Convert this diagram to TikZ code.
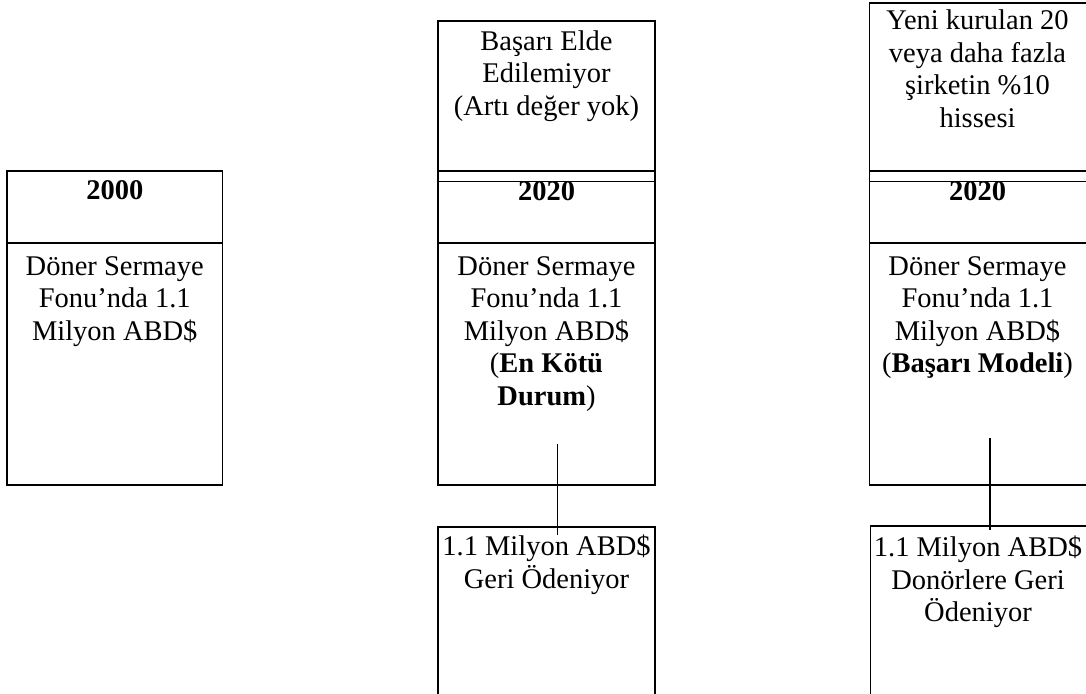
\documentclass[tikz,border=0pt]{standalone}
\usepackage{fontspec}
\setmainfont{Liberation Serif}
\begin{document}
\tikzset{
  frame/.style={draw, line width=1.8pt, inner sep=0pt, outer sep=0pt, anchor=north west},
  txt/.style={font=\fontsize{28.5}{32.5}\selectfont, align=center, inner sep=0pt, anchor=north},
  link/.style={draw, line width=1.4pt},
}
\begin{tikzpicture}[x=1pt,y=-1pt]
\useasboundingbox (0,0) rectangle (1086,693);
\clip (0,0) rectangle (1086,693);
% column 1 (2000)
\node[frame, minimum width=215.5pt, minimum height=72pt] (a-head) at (7,171) {};
\node[frame, minimum width=215.5pt, minimum height=242pt] (a-body) at (7,243) {};
% column 2 (2020, worst case)
\node[frame, minimum width=217pt, minimum height=150pt] (m-top) at (438,21) {};
\node[frame, minimum width=217pt, minimum height=10.5pt] (m-strip) at (438,171) {};
\node[frame, minimum width=217pt, minimum height=61.5pt] (m-head) at (438,181.5) {};
\node[frame, minimum width=217pt, minimum height=242pt] (m-body) at (438,243) {};
\node[frame, minimum width=217pt, minimum height=200pt] (m-low) at (438,527) {};
% column 3 (2020, success model)
\node[frame, minimum width=230pt, minimum height=168pt] (r-top) at (869.5,3) {};
\node[frame, minimum width=230pt, minimum height=10.5pt] (r-strip) at (869.5,171) {};
\node[frame, minimum width=230pt, minimum height=61.5pt] (r-head) at (869.5,181.5) {};
\node[frame, minimum width=230pt, minimum height=242pt] (r-body) at (869.5,243) {};
\node[frame, minimum width=230pt, minimum height=200pt] (r-low) at (870.5,526) {};
% texts
\node[txt] (a-year) at (114.75,176.5) {\strut\textbf{2000}};
\node[txt] (a-text) at (114.75,252.2) {\strut Döner Sermaye\\Fonu’nda 1.1\\Milyon ABD\$};
\node[txt] (m-top-text) at (546.5,27.2) {\strut Başarı Elde\\Edilemiyor\\(Artı değer yok)};
\node[txt] (m-year) at (546.5,177.7) {\strut\textbf{2020}};
\node[txt] (m-text) at (546.5,252.2) {\strut Döner Sermaye\\Fonu’nda 1.1\\Milyon ABD\$\\(\textbf{En Kötü}\\\textbf{Durum})};
\node[txt] (m-low-text) at (546.5,532.2) {\strut 1.1 Milyon ABD\$\\Geri Ödeniyor};
\node[txt] (r-top-text) at (977.5,6.7) {\strut Yeni kurulan 20\\veya daha fazla\\şirketin \%10\\hissesi};
\node[txt] (r-year) at (977.5,177.7) {\strut\textbf{2020}};
\node[txt] (r-text) at (977.5,252.2) {\strut Döner Sermaye\\Fonu’nda 1.1\\Milyon ABD\$\\(\textbf{Başarı Modeli})};
\node[txt] (r-low-text) at (978,533.7) {\strut 1.1 Milyon ABD\$\\Donörlere Geri\\Ödeniyor};
% connectors
\coordinate (m-c1) at (557.5,444);
\coordinate (m-c2) at (557.5,535);
\draw[link] (m-c1) -- (m-c2);
\coordinate (r-c1) at (990,438);
\coordinate (r-c2) at (990,530);
\draw[link] (r-c1) -- (r-c2);
\end{tikzpicture}
\end{document}
